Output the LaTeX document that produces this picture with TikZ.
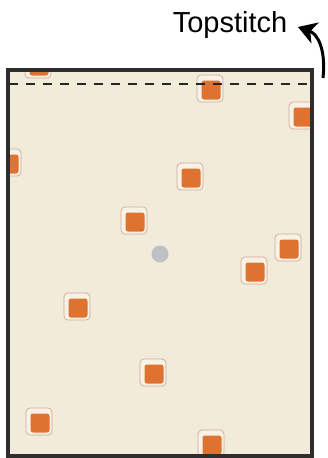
\documentclass[tikz,border=0pt]{standalone}
\usepackage{fontspec}
\setmainfont{Liberation Sans}
\usetikzlibrary{arrows.meta}
\definecolor{cream}{HTML}{F1EBDA}
\definecolor{orng}{HTML}{DE7331}
\definecolor{framec}{HTML}{CFA994}
\definecolor{framein}{HTML}{F8F2E6}
\definecolor{border}{HTML}{2E2E2E}
\definecolor{dotc}{HTML}{BFC0C4}
\tikzset{
  fabric/.style={fill=cream, draw=none},
  outline/.style={draw=border, line width=3.4pt},
  stitch/.style={draw=black!85, line width=2.8pt, dash pattern=on 9pt off 8pt},
  lbl/.style={font=\fontsize{29}{31}\selectfont, inner sep=0pt, anchor=base},
  curvearrow/.style={draw=black, line width=3pt, -{Stealth[length=18pt,width=22pt,inset=5pt]}},
}
\newcommand{\dotsq}[2]{%
  \fill[framein, draw=framec, line width=0.7pt, rounded corners=4pt] (#1-14,#2-15) rectangle (#1+12,#2+12);
  \fill[orng, rounded corners=2.5pt] (#1-9.5,#2-9.5) rectangle (#1+9.5,#2+9.5);
}
\begin{document}
\begin{tikzpicture}[x=1pt,y=-1pt]
\useasboundingbox (0,0) rectangle (327,458);
\fill[fabric] (8,70) rectangle (312,456);
\begin{scope}
\clip (8,70) rectangle (312,456);
\dotsq{39}{66}
\dotsq{211}{90}
\dotsq{303}{117}
\dotsq{9}{164}
\dotsq{191}{178}
\dotsq{135}{222}
\dotsq{289}{249}
\dotsq{255}{272}
\dotsq{78}{308}
\dotsq{154}{374}
\dotsq{40}{423}
\dotsq{212}{445}
\end{scope}
\node[circle, fill=dotc, minimum size=17pt, inner sep=0pt] (dot) at (160,254) {};
\coordinate (sl) at (9,84);
\coordinate (sr) at (312,84);
\draw[stitch] (sl) -- (sr);
\draw[outline] (8,70) rectangle (312,456);
\node[lbl] (t) at (230,32) {Topstitch};
\coordinate (s) at (323,78);
\coordinate (tip) at (298,27);
\draw[curvearrow] (s) .. controls (326,50) and (318,34) .. (tip);
\end{tikzpicture}
\end{document}
